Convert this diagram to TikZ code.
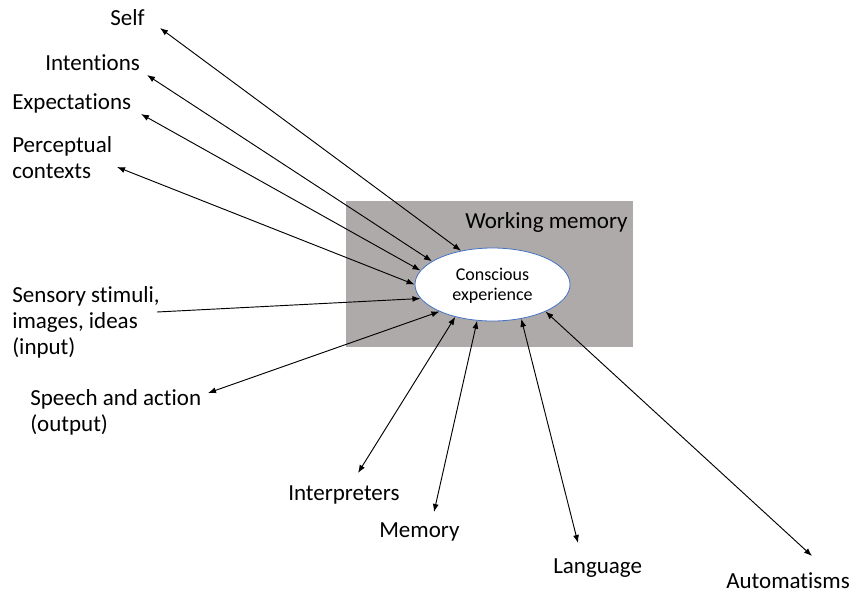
\documentclass[tikz,border=0pt]{standalone}
\usepackage{fontspec}
\setmainfont{Carlito}[Ligatures=NoCommon]
\usetikzlibrary{arrows.meta,shapes.geometric}
\definecolor{wmgray}{RGB}{174,170,170}
\definecolor{ellblue}{RGB}{68,114,196}
\begin{document}
\begin{tikzpicture}[x=0.75pt,y=-0.75pt,
  lbl/.style={inner sep=0pt,font=\fontsize{17.25pt}{19.5pt}\selectfont,align=left},
  twoway/.style={draw,line width=0.7pt,{Latex[length=6pt,width=4.5pt]}-{Latex[length=6pt,width=4.5pt]}},
  oneway/.style={draw,line width=0.7pt,-{Latex[length=6pt,width=4.5pt]}}]
\useasboundingbox (0,0) rectangle (850,593);

% working memory area
\node[fill=wmgray,minimum width=215.25pt,minimum height=109.5pt,inner sep=0pt] (wmbox) at (489.5,274) {};
\node[lbl,anchor=base west] (wm) at (465,228) {Working memory};

% conscious experience
\node[ellipse,draw=ellblue,line width=0.6pt,fill=white,minimum width=116.25pt,minimum height=54.75pt,inner sep=0pt,
      align=center,font=\fontsize{13.5pt}{15pt}\selectfont,text depth=0pt] (ce) at (492.5,284.5) {Conscious\\experience};

% surrounding labels (multi-line ones are placed by their last baseline)
\node[lbl,anchor=base west] (self) at (110,25) {Self};
\node[lbl,anchor=base west] (intent) at (45,70) {Intentions};
\node[lbl,anchor=base west] (expect) at (12,109) {Expectations};
\node[lbl,anchor=base west] (percept) at (12,178) {Perceptual\\contexts};
\node[lbl,anchor=base west] (sensory) at (12,354) {Sensory stimuli,\\images, ideas\\(input)};
\node[lbl,anchor=base west] (speech) at (30,431) {Speech and action\\(output)};
\node[lbl,anchor=base west] (interp) at (288,500) {Interpreters};
\node[lbl,anchor=base west] (memory) at (379,537) {Memory};
\node[lbl,anchor=base west] (lang) at (553,573) {Language};
\node[lbl,anchor=base west] (autom) at (726,588) {Automatisms};

% arrow ends next to the labels
\coordinate (selfT) at (160,28);
\coordinate (intentT) at (147,75);
\coordinate (expectT) at (141,114);
\coordinate (perceptT) at (117,167);
\coordinate (sensoryT) at (157,312);
\coordinate (speechT) at (208,393);
\coordinate (interpT) at (358,473);
\coordinate (memoryT) at (434,512);
\coordinate (langT) at (578,543);
\coordinate (automT) at (812,556);

% connectors
\draw[twoway] (selfT) -- (ce.133.4);
\draw[twoway] (intentT) -- (ce.159.5);
\draw[twoway] (expectT) -- (ce.169.7);
\draw[twoway] (perceptT) -- (ce.180);
\draw[oneway] (sensoryT) -- (ce.191);
\draw[twoway] (speechT) -- (ce.207.2);
\draw[twoway] (interpT) -- (ce.221.8);
\draw[twoway] (memoryT) -- (ce.247.8);
\draw[twoway] (langT) -- (ce.310.2);
\draw[twoway] (automT) -- (ce.333.6);
\end{tikzpicture}
\end{document}
